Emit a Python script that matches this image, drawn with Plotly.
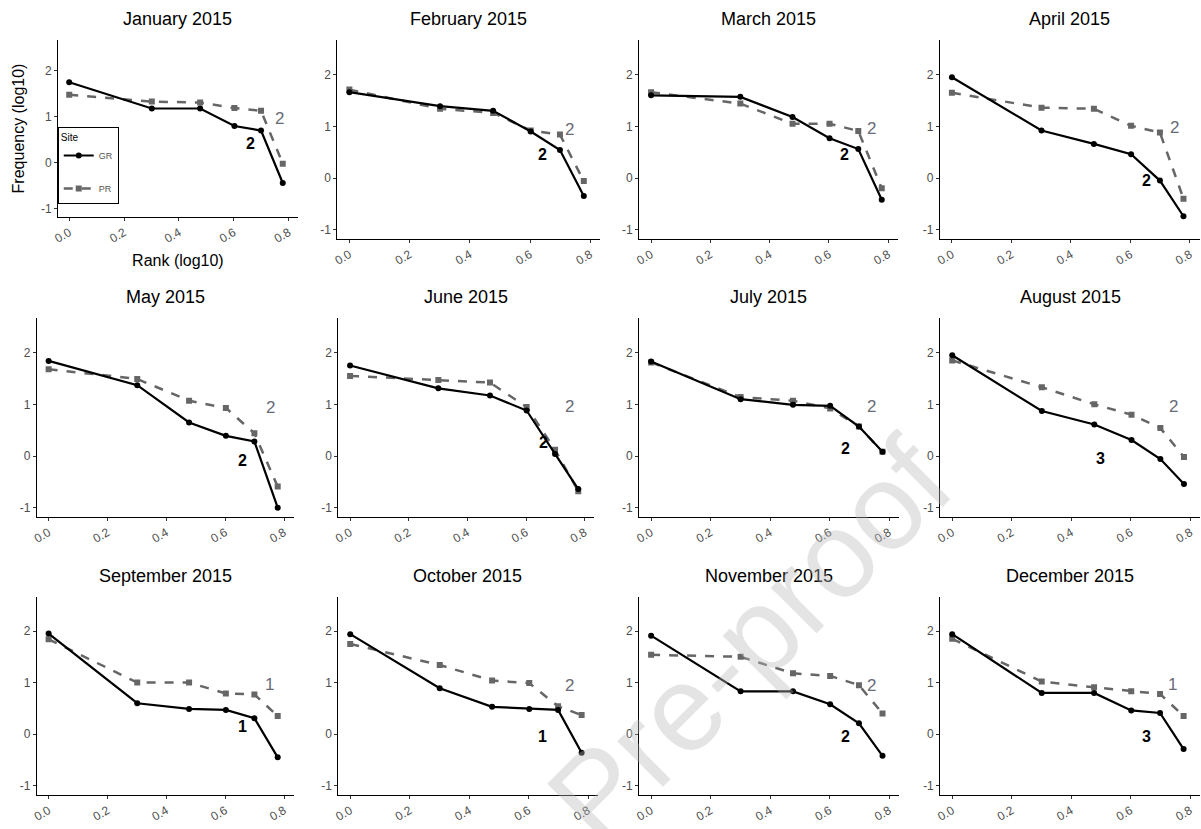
import plotly.graph_objects as go

W, H = 1201, 829

months = ["January 2015", "February 2015", "March 2015", "April 2015",
          "May 2015", "June 2015", "July 2015", "August 2015",
          "September 2015", "October 2015", "November 2015", "December 2015"]

rank_log = [0.0, 0.30103, 0.47712, 0.60206, 0.69897, 0.77815]

gr_freq = [
    [1.75, 1.18, 1.18, 0.80, 0.70, -0.44],
    [1.66, 1.39, 1.30, 0.90, 0.54, -0.35],
    [1.60, 1.57, 1.18, 0.77, 0.56, -0.42],
    [1.95, 0.92, 0.66, 0.46, -0.05, -0.74],
    [1.84, 1.37, 0.65, 0.39, 0.28, -1.00],
    [1.75, 1.31, 1.17, 0.88, 0.04, -0.64],
    [1.83, 1.10, 0.99, 0.97, 0.57, 0.08],
    [1.95, 0.87, 0.61, 0.31, -0.06, -0.54],
    [1.95, 0.60, 0.49, 0.47, 0.31, -0.45],
    [1.94, 0.89, 0.53, 0.49, 0.47, -0.36],
    [1.91, 0.83, 0.83, 0.58, 0.21, -0.42],
    [1.94, 0.80, 0.80, 0.46, 0.41, -0.29],
]

pr_freq = [
    [1.48, 1.33, 1.31, 1.19, 1.13, -0.02],
    [1.71, 1.34, 1.26, 0.92, 0.84, -0.06],
    [1.66, 1.44, 1.05, 1.05, 0.91, -0.20],
    [1.65, 1.36, 1.34, 1.01, 0.88, -0.40],
    [1.68, 1.49, 1.07, 0.93, 0.44, -0.59],
    [1.55, 1.47, 1.42, 0.95, 0.12, -0.68],
    [1.81, 1.14, 1.07, 0.92, 0.57, 0.08],
    [1.85, 1.33, 1.00, 0.80, 0.54, -0.02],
    [1.84, 1.00, 1.00, 0.79, 0.77, 0.35],
    [1.75, 1.34, 1.04, 0.99, 0.54, 0.37],
    [1.54, 1.50, 1.18, 1.13, 0.95, 0.40],
    [1.85, 1.02, 0.91, 0.83, 0.78, 0.35],
]

gr_label = ["2", "2", "2", "2", "2", "2", "2", "3", "1", "1", "2", "3"]
pr_label = ["2", "2", "2", "2", "2", "2", "2", "2", "1", "2", "2", "1"]
gr_label_x = [0.662, 0.642, 0.652, 0.653, 0.658, 0.659, 0.653, 0.497, 0.658, 0.647, 0.653, 0.653]
gr_label_y = [0.41, 0.46, 0.46, -0.05, -0.08, 0.26, 0.15, -0.05, 0.14, -0.05, -0.05, -0.05]
pr_label_x = [0.766, 0.732, 0.744, 0.748, 0.752, 0.749, 0.742, 0.742, 0.749, 0.739, 0.742, 0.742]
pr_label_y = [0.97, 0.94, 0.95, 0.97, 0.94, 0.955, 0.955, 0.95, 0.97, 0.95, 0.94, 0.97]

x_ticks = [0.0, 0.2, 0.4, 0.6, 0.8]
x_tick_text = ["0.0", "0.2", "0.4", "0.6", "0.8"]
y_ticks = [-1, 0, 1, 2]
y_tick_text = ["-1", "0", "1", "2"]

# panel boxes in pixels: left, right, top, bottom
boxes = [
    (52.5, 293, 40, 217), (333, 597, 40, 239), (636.4, 896.2, 40, 239), (938.7, 1199.5, 40, 239),
    (31, 289, 318, 517), (334, 591, 318, 517), (636.4, 897, 318, 517), (939, 1200, 318, 517),
    (31, 289, 596.5, 795), (334, 594.6, 596.5, 795), (636.4, 897, 596.5, 795), (939, 1199.6, 596.5, 795),
]

FONT = "Liberation Sans, Arial, sans-serif"
GR_COLOR = "black"
PR_COLOR = "#666666"

fig = go.Figure()
annotations = []
layout_axes = {}

for i in range(12):
    k = "" if i == 0 else str(i + 1)
    xa, ya = "x" + k, "y" + k
    l, r, t, b = boxes[i]
    first = (i == 0)
    fig.add_trace(go.Scatter(
        x=rank_log, y=pr_freq[i], mode="lines+markers", name="PR",
        line=dict(color=PR_COLOR, width=2.5, dash="dash"),
        marker=dict(symbol="square", size=6, color=PR_COLOR),
        xaxis=xa, yaxis=ya, showlegend=first, legendrank=2, legendgroup="PR",
    ))
    fig.add_trace(go.Scatter(
        x=rank_log, y=gr_freq[i], mode="lines+markers", name="GR",
        line=dict(color=GR_COLOR, width=2.2),
        marker=dict(symbol="circle", size=6, color=GR_COLOR),
        xaxis=xa, yaxis=ya, showlegend=first, legendrank=1, legendgroup="GR",
    ))
    common = dict(showline=True, linecolor="black", linewidth=1.2, showgrid=False,
                  zeroline=False, ticks="outside", ticklen=3, tickcolor="#333333",
                  tickfont=dict(family=FONT, size=12, color="#4d4d4d"))
    layout_axes["xaxis" + k] = dict(
        domain=[l / W, r / W], anchor=ya, range=[-0.04, 0.832],
        tickvals=x_ticks, ticktext=x_tick_text, tickangle=-30, **common)
    layout_axes["yaxis" + k] = dict(
        domain=[1 - b / H, 1 - t / H], anchor=xa, range=[-1.18, 2.67],
        tickvals=y_ticks, ticktext=y_tick_text, **common)
    if first:
        layout_axes["xaxis"]["title"] = dict(text="Rank (log10)", font=dict(family=FONT, size=16, color="black"), standoff=10)
        layout_axes["yaxis"]["title"] = dict(text="Frequency (log10)", font=dict(family=FONT, size=16, color="black"), standoff=12)
    # title
    annotations.append(dict(text=months[i], xref="paper", yref="paper",
                            x=(l + r) / 2 / W, y=1 - (t - 21) / H, xanchor="center", yanchor="middle",
                            showarrow=False, font=dict(family=FONT, size=18, color="black")))
    # labels
    annotations.append(dict(text="<b>" + gr_label[i] + "</b>", xref=xa, yref=ya,
                            x=gr_label_x[i], y=gr_label_y[i], showarrow=False,
                            font=dict(family=FONT, size=16, color="black")))
    annotations.append(dict(text=pr_label[i], xref=xa, yref=ya,
                            x=pr_label_x[i], y=pr_label_y[i], showarrow=False,
                            font=dict(family=FONT, size=17, color="#6a6a78")))

# watermark
annotations.append(dict(text="Pre-proof", xref="paper", yref="paper",
                        x=748 / W, y=1 - 640 / H, xanchor="center", yanchor="middle",
                        textangle=-45, showarrow=False,
                        font=dict(family=FONT, size=122, color="rgba(185,185,185,0.38)")))

fig.update_layout(
    width=W, height=H, margin=dict(l=0, r=0, t=0, b=0),
    paper_bgcolor="white", plot_bgcolor="white",
    annotations=annotations,
    legend=dict(x=52 / W, y=1 - 127 / H, xanchor="left", yanchor="top",
                bordercolor="black", borderwidth=1, bgcolor="white",
                title=dict(text="Site", font=dict(family=FONT, size=10, color="black")),
                font=dict(family=FONT, size=9, color="#555555"),
                traceorder="grouped", itemwidth=30, tracegroupgap=14),
    **layout_axes,
)

fig.write_html("out.html")
